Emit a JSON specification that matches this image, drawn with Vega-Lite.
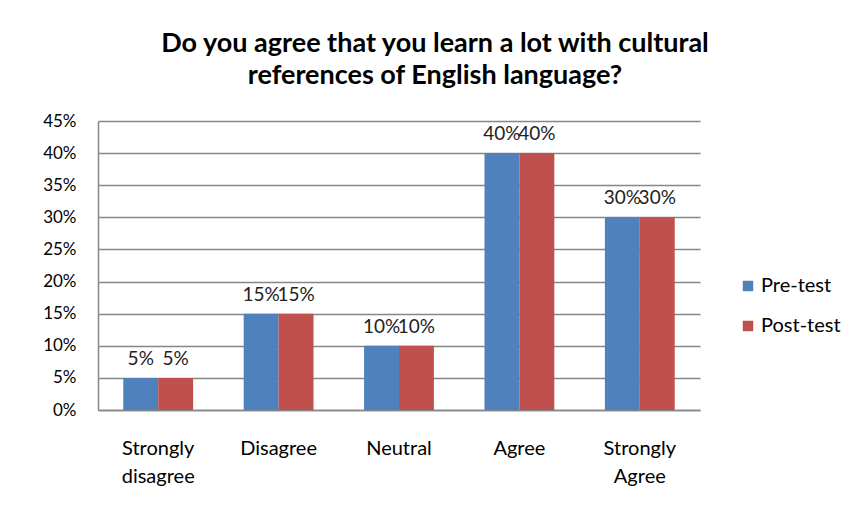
{
  "$schema": "https://vega.github.io/schema/vega-lite/v6.json",
  "autosize": "none",
  "width": 602,
  "height": 289,
  "padding": {"left": 98, "top": 121, "right": 154, "bottom": 105},
  "background": "white",
  "title": {
    "text": ["Do you agree that you learn a lot with cultural", "references of English language?"],
    "font": "Lato",
    "fontSize": 27,
    "fontWeight": "bold",
    "color": "#000000",
    "anchor": "middle",
    "dx": 36,
    "offset": 22,
    "lineHeight": 32
  },
  "data": {
    "values": [
      {"category": "Strongly disagree", "series": "Pre-test", "value": 0.05, "label": "5%"},
      {"category": "Strongly disagree", "series": "Post-test", "value": 0.05, "label": "5%"},
      {"category": "Disagree", "series": "Pre-test", "value": 0.15, "label": "15%"},
      {"category": "Disagree", "series": "Post-test", "value": 0.15, "label": "15%"},
      {"category": "Neutral", "series": "Pre-test", "value": 0.10, "label": "10%"},
      {"category": "Neutral", "series": "Post-test", "value": 0.10, "label": "10%"},
      {"category": "Agree", "series": "Pre-test", "value": 0.40, "label": "40%"},
      {"category": "Agree", "series": "Post-test", "value": 0.40, "label": "40%"},
      {"category": "Strongly Agree", "series": "Pre-test", "value": 0.30, "label": "30%"},
      {"category": "Strongly Agree", "series": "Post-test", "value": 0.30, "label": "30%"}
    ]
  },
  "encoding": {
    "x": {
      "field": "category",
      "type": "nominal",
      "sort": ["Strongly disagree", "Disagree", "Neutral", "Agree", "Strongly Agree"],
      "scale": {"paddingInner": 0.42, "paddingOuter": 0.21},
      "axis": {
        "title": null,
        "labelAngle": 0,
        "labelExpr": "split(datum.label, ' ')",
        "labelFont": "Lato",
        "labelFontSize": 20,
        "labelColor": "#000000",
        "labelLineHeight": 28,
        "labelPadding": 38,
        "labelBaseline": "middle",
        "ticks": false,
        "domainColor": "#868686",
        "domainWidth": 1.5,
        "grid": false
      }
    },
    "xOffset": {"field": "series", "type": "nominal", "sort": ["Pre-test", "Post-test"], "scale": {"paddingInner": 0, "paddingOuter": 0}},
    "y": {
      "field": "value",
      "type": "quantitative",
      "scale": {"domain": [0, 0.45], "nice": false},
      "axis": {
        "title": null,
        "format": ".0%",
        "values": [0, 0.05, 0.1, 0.15, 0.2, 0.25, 0.3, 0.35, 0.4, 0.45],
        "labelFont": "Lato",
        "labelFontSize": 17,
        "labelColor": "#000000",
        "labelPadding": 22,
        "ticks": false,
        "grid": true,
        "gridColor": "#868686",
        "gridWidth": 1.3,
        "domainColor": "#868686",
        "domainWidth": 1.5
      }
    }
  },
  "layer": [
    {
      "mark": {"type": "bar"},
      "encoding": {
        "color": {
          "field": "series",
          "type": "nominal",
          "sort": ["Pre-test", "Post-test"],
          "scale": {"domain": ["Pre-test", "Post-test"], "range": ["#4F81BD", "#C0504D"]},
          "legend": {
            "title": null,
            "orient": "none",
            "legendX": 640,
            "legendY": 155,
            "symbolType": "square",
            "symbolSize": 110,
            "symbolStrokeWidth": 0,
            "labelFont": "Lato",
            "labelFontSize": 20,
            "labelColor": "#000000",
            "rowPadding": 20,
            "labelOffset": 3
          }
        }
      }
    },
    {
      "mark": {"type": "text", "baseline": "bottom", "dy": -9, "font": "Lato", "fontSize": 19, "color": "#222222"},
      "encoding": {
        "text": {"field": "label"}
      }
    }
  ],
  "config": {"view": {"stroke": null}}
}
